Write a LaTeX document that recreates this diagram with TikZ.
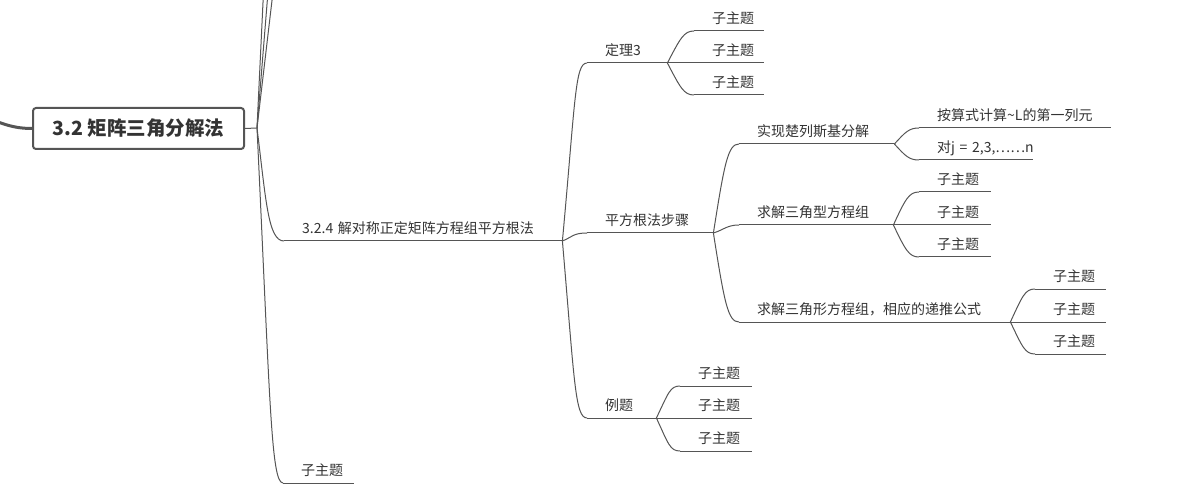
\documentclass[tikz,border=0pt]{standalone}
\usepackage{fontspec}
\setmainfont{Noto Sans CJK SC}

\definecolor{linegray}{HTML}{555555}
\definecolor{textgray}{HTML}{333333}

\tikzset{
  link/.style={draw=linegray, line width=1pt},
  trunk/.style={draw=linegray, line width=3pt},
  root/.style={draw=linegray, line width=2pt, rounded corners=3pt, minimum width=211pt, minimum height=41pt,
    inner sep=0pt, font=\fontsize{19.5}{23}\selectfont\bfseries, text=textgray},
  topic/.style={anchor=south west, inner xsep=0pt, inner ysep=7pt, text depth=0pt, text width=#1, align=left,
    font=\fontsize{14}{17}\selectfont, text=textgray, execute at begin node={\hspace*{18pt}}}
}

\begin{document}
\begin{tikzpicture}[x=1pt, y=-1pt]
    \useasboundingbox (0,0) rectangle (1197,497);

    % Hauptthema
    \node[root] (root) at (138.5,128.5) {3.2 矩阵三角分解法};
    \coordinate (parent) at (-40,104); % Elternthema links, ausserhalb
    \coordinate (rb) at (257,128);     % Verzweigung rechts
    \coordinate (s1) at (263.5,-8);    % Geschwister oben, ausserhalb
    \coordinate (s2) at (268,-8);
    \coordinate (s3) at (273,-8);

    % zweite Ebene
    \node[topic=278pt] (t324) at (284,241) {3.2.4 解对称正定矩阵方程组平方根法};
    \node[topic=71pt] (tsub) at (283,483) {子主题};

    % dritte Ebene
    \node[topic=80pt] (dl3) at (587,63) {定理3};
    \node[topic=126pt] (pfg) at (587,233) {平方根法步骤};
    \node[topic=69pt] (lt) at (587,418) {例题};

    % unter Satz 3
    \node[topic=70pt] (dl3a) at (694,31) {子主题};
    \node[topic=70pt] (dl3b) at (694,63) {子主题};
    \node[topic=70pt] (dl3c) at (694,95) {子主题};

    % unter Schritte
    \node[topic=155pt] (sx) at (739,144) {实现楚列斯基分解};
    \node[topic=154pt] (qj1) at (739,225) {求解三角型方程组};
    \node[topic=271pt] (qj2) at (739,322) {求解三角形方程组，相应的递推公式};

    % unter Beispiel
    \node[topic=72pt] (lta) at (680,386) {子主题};
    \node[topic=72pt] (ltb) at (680,418) {子主题};
    \node[topic=72pt] (ltc) at (680,451) {子主题};

    % fuenfte Ebene
    \node[topic=192pt] (sxa) at (919,128) {按算式计算\textasciitilde L的第一列元};
    \node[topic=114pt] (sxb) at (919,160) {\mbox{对j = 2,3,……n}};
    \node[topic=72pt] (qj1a) at (919,192) {子主题};
    \node[topic=72pt] (qj1b) at (919,225) {子主题};
    \node[topic=72pt] (qj1c) at (919,257) {子主题};
    \node[topic=71pt] (qj2a) at (1035,289) {子主题};
    \node[topic=71pt] (qj2b) at (1035,322) {子主题};
    \node[topic=71pt] (qj2c) at (1035,354) {子主题};

    % Unterstriche
    \foreach \n in {t324,tsub,dl3,pfg,lt,dl3a,dl3b,dl3c,sx,qj1,qj2,lta,ltb,ltc,sxa,sxb,qj1a,qj1b,qj1c,qj2a,qj2b,qj2c}
        \draw[link] (\n.south west) -- (\n.south east);

    % Verbindungen am Hauptthema
    \draw[trunk] (parent) .. controls (-5,122) and (10,128.5) .. (root.west);
    \draw[link] (root.east) -- (rb);
    \draw[link] (rb) -- (s1);
    \draw[link] (rb) -- (s2);
    \draw[link] (rb) -- (s3);
    \draw[link] (rb) .. controls +(9,72) and +(-16,0) .. (t324.south west);
    \draw[link] (rb) .. controls +(13,272) and +(-12,0) .. (tsub.south west);

    % von 3.2.4
    \draw[link] (t324.south east) .. controls +(13,-141) and +(-12,0) .. (dl3.south west);
    \draw[link] (t324.south east) .. controls +(10,-4) and +(-14,0) .. (pfg.south west);
    \draw[link] (t324.south east) .. controls +(12,139) and +(-12,0) .. (lt.south west);

    % von Satz 3
    \draw[link] (dl3.south east) .. controls +(13,-25) and +(-10,0) .. (dl3a.south west);
    \draw[link] (dl3.south east) -- (dl3b.south west);
    \draw[link] (dl3.south east) .. controls +(13,25) and +(-10,0) .. (dl3c.south west);

    % von Schritte
    \draw[link] (pfg.south east) .. controls +(11,-70) and +(-11,0) .. (sx.south west);
    \draw[link] (pfg.south east) .. controls +(10,-3) and +(-12,0) .. (qj1.south west);
    \draw[link] (pfg.south east) .. controls +(11,70) and +(-11,0) .. (qj2.south west);

    % von Beispiel
    \draw[link] (lt.south east) .. controls +(12,-25) and +(-10,0) .. (lta.south west);
    \draw[link] (lt.south east) -- (ltb.south west);
    \draw[link] (lt.south east) .. controls +(12,26) and +(-10,0) .. (ltc.south west);

    % fuenfte Ebene
    \draw[link] (sx.south east) .. controls +(11,-12) and +(-10,0) .. (sxa.south west);
    \draw[link] (sx.south east) .. controls +(11,12) and +(-10,0) .. (sxb.south west);
    \draw[link] (qj1.south east) .. controls +(12,-26) and +(-10,0) .. (qj1a.south west);
    \draw[link] (qj1.south east) -- (qj1b.south west);
    \draw[link] (qj1.south east) .. controls +(12,25) and +(-10,0) .. (qj1c.south west);
    \draw[link] (qj2.south east) .. controls +(12,-26) and +(-10,0) .. (qj2a.south west);
    \draw[link] (qj2.south east) -- (qj2b.south west);
    \draw[link] (qj2.south east) .. controls +(12,25) and +(-10,0) .. (qj2c.south west);
\end{tikzpicture}
\end{document}
